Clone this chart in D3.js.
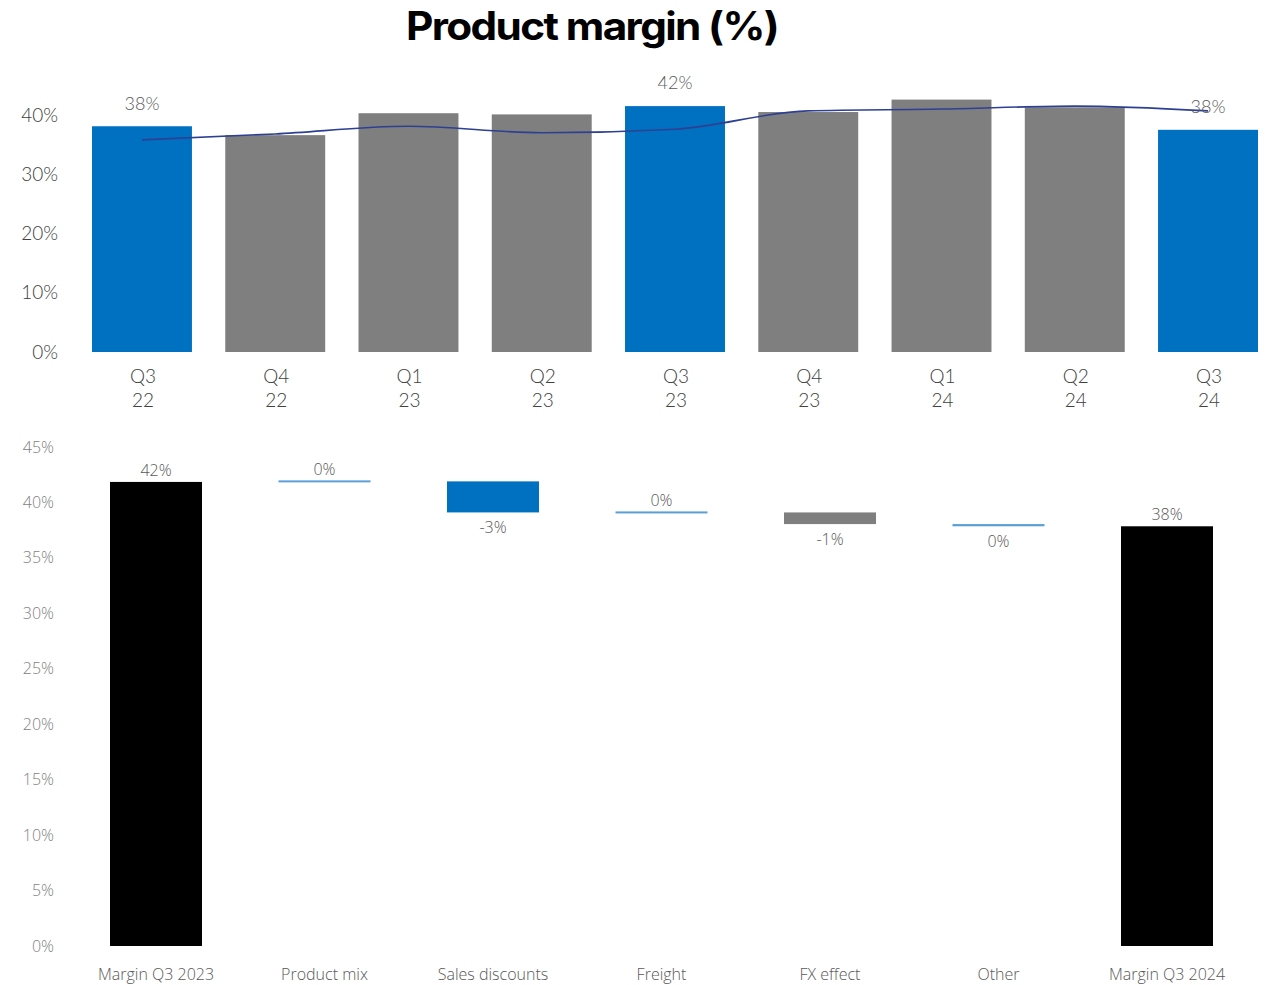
<!DOCTYPE html>
<html>
<head>
<meta charset="utf-8">
<script src="https://cdn.jsdelivr.net/npm/d3@7"></script>
<style>
  html, body { margin: 0; padding: 0; background: #fff; }
  svg { display: block; }
</style>
</head>
<body>
<svg id="chart" width="1271" height="985"></svg>
<script>
// ---------- Data ----------
const quarters = ["Q3 22", "Q4 22", "Q1 23", "Q2 23", "Q3 23", "Q4 23", "Q1 24", "Q2 24", "Q3 24"];
const quarterMargin = [38.1, 36.6, 40.3, 40.1, 41.5, 40.5, 42.6, 41.3, 37.5];
const rollingMargin = [35.8, 36.8, 38.1, 37.0, 37.6, 40.7, 41.0, 41.5, 40.7];
const highlightQuarters = ["Q3 22", "Q3 23", "Q3 24"];
const quarterLabels = ["38%", "", "", "", "42%", "", "", "", "38%"];
const topTicks = [0, 10, 20, 30, 40];

const bridgeCategories = ["Margin Q3 2023", "Product mix", "Sales discounts", "Freight", "FX effect", "Other", "Margin Q3 2024"];
const bridgeStart = 41.85;
const bridgeDeltas = [0.05, -2.8, 0, -1.05, -0.2];
const bridgeEnd = 37.85;
const bridgeLabels = ["42%", "0%", "-3%", "0%", "-1%", "0%", "38%"];
const bridgeColors = ["#000000", "#5b9fd8", "#0070c0", "#5b9fd8", "#7f7f7f", "#5b9fd8", "#000000"];
const bottomTicks = [0, 5, 10, 15, 20, 25, 30, 35, 40, 45];

// ---------- Setup ----------
const svg = d3.select("#chart");
const topFont = "Lato, 'DejaVu Sans', sans-serif";
const botFont = "'Open Sans', 'Noto Sans', sans-serif";

// Title
svg.append("text")
  .attr("x", 592).attr("y", 40)
  .attr("text-anchor", "middle")
  .attr("font-family", "Inter, 'Noto Sans', sans-serif")
  .attr("font-weight", 700)
  .attr("font-size", 39)
  .attr("letter-spacing", -1.5)
  .attr("textLength", 372)
  .attr("lengthAdjust", "spacingAndGlyphs")
  .attr("fill", "#000")
  .text("Product margin (%)");

// ---------- Top chart ----------
const xTop = d3.scaleBand().domain(quarters).range([92, 1258]).paddingInner(0.25).paddingOuter(0);
const yTop = d3.scaleLinear().domain([0, 40]).range([352, 115]);

const gTop = svg.append("g");

gTop.selectAll("text.ytick").data(topTicks).join("text")
  .attr("class", "ytick")
  .attr("x", 58).attr("y", d => yTop(d)).attr("dy", "0.35em")
  .attr("text-anchor", "end")
  .attr("font-family", topFont).attr("font-weight", 300).attr("font-size", 19)
  .attr("fill", "#404040")
  .text(d => d + "%");

gTop.selectAll("rect.qbar").data(quarters).join("rect")
  .attr("class", "qbar")
  .attr("x", d => xTop(d))
  .attr("width", xTop.bandwidth())
  .attr("y", (d, i) => yTop(quarterMargin[i]))
  .attr("height", (d, i) => yTop(0) - yTop(quarterMargin[i]))
  .attr("fill", d => highlightQuarters.includes(d) ? "#0070c0" : "#7f7f7f");

const line = d3.line()
  .x((d, i) => xTop(quarters[i]) + xTop.bandwidth() / 2)
  .y(d => yTop(d))
  .curve(d3.curveMonotoneX);
gTop.append("path")
  .datum(rollingMargin)
  .attr("d", line)
  .attr("fill", "none")
  .attr("stroke", "#2e4093")
  .attr("stroke-width", 1.6);

gTop.selectAll("text.qlabel").data(quarters).join("text")
  .attr("class", "qlabel")
  .attr("x", d => xTop(d) + xTop.bandwidth() / 2)
  .attr("y", (d, i) => yTop(quarterMargin[i]) - 23)
  .attr("dy", "0.35em")
  .attr("text-anchor", "middle")
  .attr("font-family", topFont).attr("font-weight", 300).attr("font-size", 18)
  .attr("fill", "#595959")
  .text((d, i) => quarterLabels[i]);

const xl = gTop.selectAll("text.xtick").data(quarters).join("text")
  .attr("class", "xtick")
  .attr("text-anchor", "middle")
  .attr("font-family", topFont).attr("font-weight", 300).attr("font-size", 19)
  .attr("fill", "#404040");
xl.append("tspan")
  .attr("x", d => xTop(d) + xTop.bandwidth() / 2 + 1)
  .attr("y", 376).attr("dy", "0.35em")
  .text(d => d.split(" ")[0]);
xl.append("tspan")
  .attr("x", d => xTop(d) + xTop.bandwidth() / 2 + 1)
  .attr("y", 400).attr("dy", "0.35em")
  .text(d => d.split(" ")[1]);

// ---------- Bottom chart (bridge) ----------
const xBot = d3.scaleBand().domain(bridgeCategories).range([110, 1213]).paddingInner(0.454).paddingOuter(0);
const yBot = d3.scaleLinear().domain([0, 45]).range([946, 447]);

const segs = [];
let running = bridgeStart;
segs.push({ cat: bridgeCategories[0], y0: 0, y1: bridgeStart, delta: bridgeStart });
bridgeDeltas.forEach((d, i) => {
  segs.push({ cat: bridgeCategories[i + 1], y0: running, y1: running + d, delta: d });
  running += d;
});
segs.push({ cat: bridgeCategories[6], y0: 0, y1: bridgeEnd, delta: bridgeEnd });

const gBot = svg.append("g");

gBot.selectAll("text.ytick").data(bottomTicks).join("text")
  .attr("class", "ytick")
  .attr("x", 54).attr("y", d => yBot(d)).attr("dy", "0.35em")
  .attr("text-anchor", "end")
  .attr("font-family", botFont).attr("font-weight", 300).attr("font-size", 16)
  .attr("fill", "#7f7f7f")
  .text(d => d + "%");

gBot.selectAll("rect.bbar").data(segs).join("rect")
  .attr("class", "bbar")
  .attr("x", d => xBot(d.cat))
  .attr("width", xBot.bandwidth())
  .attr("y", d => {
    const top = Math.min(yBot(d.y0), yBot(d.y1));
    const h = Math.abs(yBot(d.y0) - yBot(d.y1));
    return h < 2 ? (yBot(d.y1) - 1) : top;
  })
  .attr("height", d => Math.max(2, Math.abs(yBot(d.y0) - yBot(d.y1))))
  .attr("fill", (d, i) => bridgeColors[i]);

gBot.selectAll("text.blabel").data(segs).join("text")
  .attr("class", "blabel")
  .attr("x", d => xBot(d.cat) + xBot.bandwidth() / 2)
  .attr("y", d => d.delta >= 0 ? Math.min(yBot(d.y0), yBot(d.y1)) - 12 : Math.max(yBot(d.y0), yBot(d.y1)) + 15)
  .attr("dy", "0.35em")
  .attr("text-anchor", "middle")
  .attr("font-family", botFont).attr("font-weight", 300).attr("font-size", 16)
  .attr("fill", "#595959")
  .text((d, i) => bridgeLabels[i]);

gBot.selectAll("text.xtick").data(bridgeCategories).join("text")
  .attr("class", "xtick")
  .attr("x", d => xBot(d) + xBot.bandwidth() / 2)
  .attr("y", 974).attr("dy", "0.35em")
  .attr("text-anchor", "middle")
  .attr("font-family", botFont).attr("font-weight", 300).attr("font-size", 16)
  .attr("fill", "#595959")
  .text(d => d);
</script>
</body>
</html>
